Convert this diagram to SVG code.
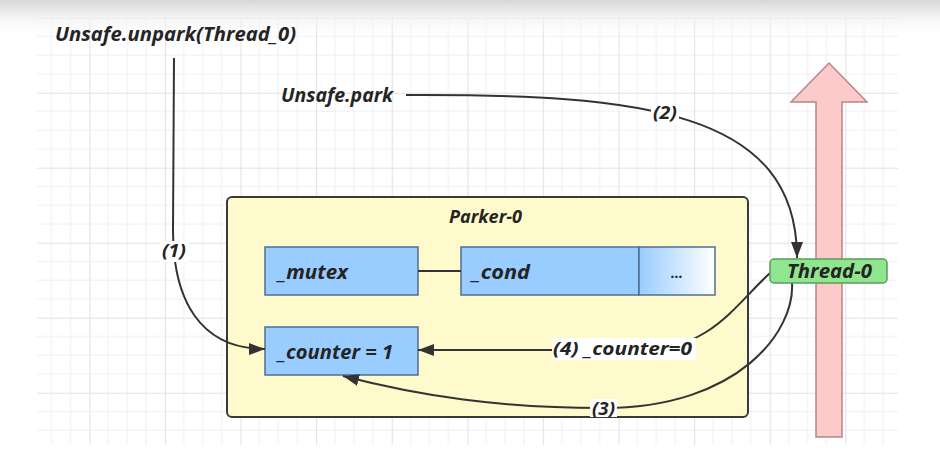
<svg xmlns="http://www.w3.org/2000/svg" width="940" height="456" viewBox="0 0 940 456">
<style>
.t{font-family:"Open Sans","DejaVu Sans",sans-serif;font-weight:bold;font-style:italic;fill:#242424;}
.box{fill:#99ccff;stroke:#4f6f93;stroke-width:1.5;}
.conn{fill:none;stroke:#333;stroke-width:2;}
.lbg{fill:#ffffff;}
</style>
<defs>
<pattern id="grid" patternUnits="userSpaceOnUse" x="13.7" y="17.7" width="75.6" height="75">
<path d="M18.9,0V75M37.8,0V75M56.7,0V75M0,18.75H75.6M0,37.5H75.6M0,56.25H75.6" stroke="#efefef" stroke-width="1" fill="none"/>
<path d="M0.5,0V75M0,0.5H75.6" stroke="#e2e2e2" stroke-width="1.2" fill="none"/>
</pattern>
<linearGradient id="topfade" x1="0" y1="0" x2="0" y2="1">
<stop offset="0" stop-color="#d6d6d6" stop-opacity="1"/>
<stop offset="0.4" stop-color="#efefef" stop-opacity="0.8"/>
<stop offset="1" stop-color="#ffffff" stop-opacity="0"/>
</linearGradient>
<linearGradient id="dots" x1="0" y1="0" x2="1" y2="0">
<stop offset="0" stop-color="#99ccff"/>
<stop offset="1" stop-color="#ffffff"/>
</linearGradient>
<marker id="ah" markerUnits="userSpaceOnUse" markerWidth="16" markerHeight="12" refX="16" refY="6" orient="auto">
<path d="M0,0 L16,6 L0,12 z" fill="#333"/>
</marker>
</defs>
<rect width="940" height="456" fill="#ffffff"/>
<rect x="37" y="17" width="861" height="428" fill="url(#grid)"/>
<rect x="0" y="0" width="940" height="40" fill="url(#topfade)"/>

<g id="thread-arrow">
<path d="M816,437 L816,102 L791,102 L829,63 L867,102 L842,102 L842,437 Z" fill="#fccaca" stroke="#b58787" stroke-width="1.5"/>
</g>

<g id="unpark-label">
<text class="t" x="55" y="41" font-size="20" textLength="241" lengthAdjust="spacingAndGlyphs">Unsafe.unpark(Thread_0)</text>
</g>
<g id="park-label">
<text class="t" x="281" y="102" font-size="20" textLength="112" lengthAdjust="spacingAndGlyphs">Unsafe.park</text>
</g>

<g id="parker">
<rect x="227" y="197" width="521" height="220" rx="5" fill="#fffacc" stroke="#3a3a3a" stroke-width="2"/>
<text class="t" x="449" y="223" font-size="18" textLength="73" lengthAdjust="spacingAndGlyphs">Parker-0</text>
</g>

<g id="mutex">
<rect class="box" x="265" y="247" width="153" height="48"/>
<text class="t" x="278" y="279" font-size="19" textLength="70" lengthAdjust="spacingAndGlyphs">_mutex</text>
</g>
<g id="cond">
<rect class="box" x="461" y="247" width="178" height="48"/>
<text class="t" x="472" y="279" font-size="19" textLength="58" lengthAdjust="spacingAndGlyphs">_cond</text>
</g>
<g id="more">
<rect x="639" y="247" width="76" height="48" fill="url(#dots)" stroke="#4f6f93" stroke-width="1.5"/>
<text class="t" x="677" y="278" font-size="14" text-anchor="middle">...</text>
</g>
<g id="counter">
<rect class="box" x="265" y="327" width="153" height="48"/>
<text class="t" x="278" y="359" font-size="19" textLength="115" lengthAdjust="spacingAndGlyphs">_counter = 1</text>
</g>

<g id="connectors">
<line class="conn" x1="418" y1="271" x2="461" y2="271"/>
<path class="conn" d="M174,58 L173,230 C173,300 200,349 265,349" marker-end="url(#ah)"/>
<path class="conn" d="M406,95 C640,94 797,110 797,258" marker-end="url(#ah)"/>
<path class="conn" d="M770,273 C735,305 710,350 640,350 L418,350" marker-end="url(#ah)"/>
<path class="conn" d="M792,283 C795,330 740,408 603,408 C500,408 420,396 343,376" marker-end="url(#ah)"/>
<rect class="lbg" x="160" y="241" width="29" height="21"/>
<text class="t" x="162" y="257" font-size="18" textLength="24" lengthAdjust="spacingAndGlyphs">(1)</text>
<rect class="lbg" x="651" y="104" width="28" height="19"/>
<text class="t" x="653" y="119" font-size="18" textLength="24" lengthAdjust="spacingAndGlyphs">(2)</text>
<rect class="lbg" x="590" y="399" width="27" height="18"/>
<text class="t" x="592" y="415" font-size="18" textLength="23" lengthAdjust="spacingAndGlyphs">(3)</text>
<rect class="lbg" x="552" y="338" width="144" height="22"/>
<text class="t" x="553" y="355" font-size="18" textLength="139" lengthAdjust="spacingAndGlyphs">(4) _counter=0</text>
</g>

<g id="thread0">
<rect x="770" y="259" width="117" height="24" rx="4" fill="#8fe68f" stroke="#5c9c5c" stroke-width="1.5"/>
<text class="t" x="787" y="278" font-size="19" textLength="85" lengthAdjust="spacingAndGlyphs">Thread-0</text>
</g>
</svg>
